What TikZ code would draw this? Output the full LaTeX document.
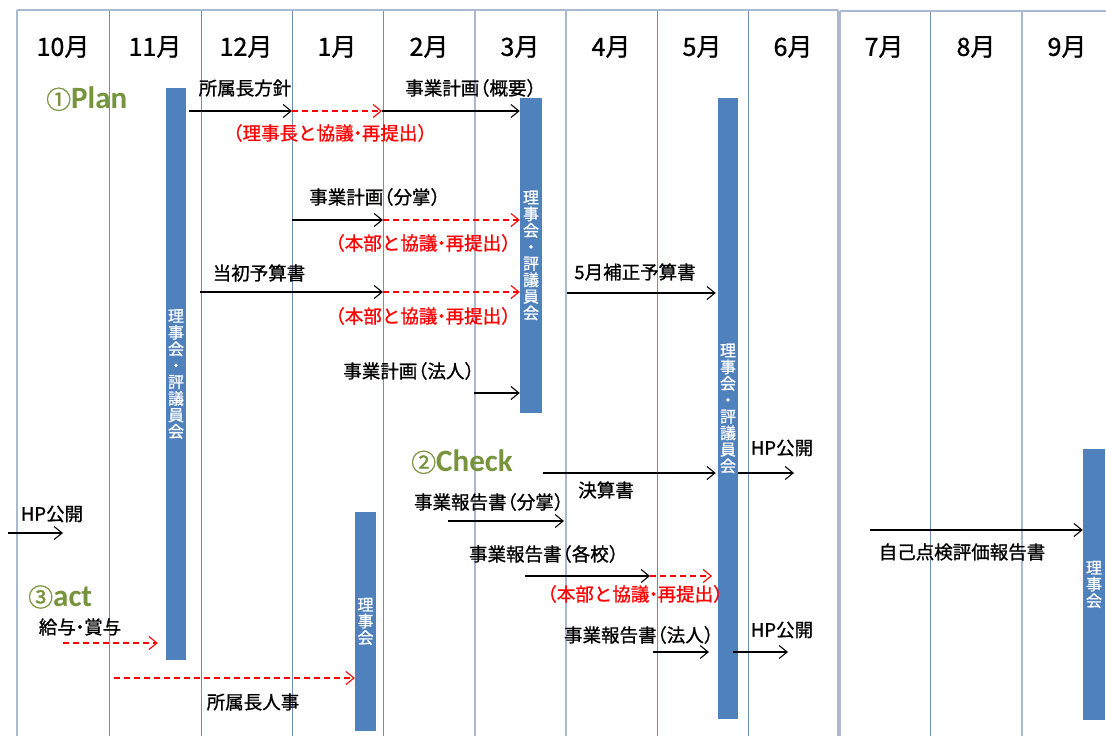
\documentclass[tikz,border=0pt]{standalone}
\usepackage{fontspec}
\setmainfont{Noto Sans CJK JP}[RawFeature={embolden=1.0}]
\newfontfamily\carl{Carlito}
\usetikzlibrary{arrows.meta}
\definecolor{barblue}{RGB}{79,129,189}
\definecolor{gridline}{RGB}{115,140,180}
\definecolor{gridlight}{RGB}{170,185,208}
\definecolor{pdcagreen}{RGB}{119,147,60}
\newcommand{\lp}{\makebox[0.55em][r]{（}}
\newcommand{\rp}{\makebox[0.55em][l]{）}}
\newcommand{\nd}{\makebox[0.45em][c]{・}}
\begin{document}
\begin{tikzpicture}[x=1pt,y=-1pt,
  month/.style={font=\fontsize{25}{25}\selectfont, inner sep=0pt},
  lbl/.style={font=\fontsize{18.5}{18.5}\selectfont, inner sep=0pt},
  redlbl/.style={lbl, text=red},
  phase/.style={text=pdcagreen, inner sep=0pt, anchor=west},
  bar/.style={fill=barblue, inner sep=0pt, text=white, align=center, font=\fontsize{16}{16.5}\selectfont},
  arr/.style={line width=1.1pt, -{Straight Barb[length=8pt,width=13pt,line width=1.1pt]}},
  darr/.style={arr, red, dash pattern=on 6pt off 4pt},
  gsolid/.style={gridline, line width=0.7pt},
  glight/.style={gridlight, line width=1.4pt},
]
\useasboundingbox (0,0) rectangle (1106,736);
\fill[white] (0,0) rectangle (1106,736);
% grid
\foreach \x in {109,201,292,383,657,748} \draw[gsolid] (\x,10) -- (\x,736);
\draw[gsolid] (930,11) -- (930,736);
\foreach \x in {17,475,566,838} \draw[glight] (\x,10) -- (\x,736);
\foreach \x in {840,1022} \draw[glight] (\x,11) -- (\x,736);
\draw[glight] (17,10) -- (838,10);
\draw[glight] (840,11) -- (1106,11);
% months
\node[month] (m10) at (63,47) {10月};
\node[month] (m11) at (155,47) {11月};
\node[month] (m12) at (246,47) {12月};
\node[month] (m1) at (337,47) {1月};
\node[month] (m2) at (429,47) {2月};
\node[month] (m3) at (520,47) {3月};
\node[month] (m4) at (611,47) {4月};
\node[month] (m5) at (702,47) {5月};
\node[month] (m6) at (793,47) {6月};
\node[month] (m7) at (884,47) {7月};
\node[month] (m8) at (976,47) {8月};
\node[month] (m9) at (1067,47) {9月};
% bars
\node[bar, minimum width=20pt, minimum height=572pt] (b1) at (176,374) {理\\事\\会\\・\\評\\議\\員\\会};
\node[bar, minimum width=22pt, minimum height=315pt] (b2) at (531,255.5) {理\\事\\会\\・\\評\\議\\員\\会};
\node[bar, minimum width=20pt, minimum height=621pt] (b3) at (728,408.5) {理\\事\\会\\・\\評\\議\\員\\会};
\node[bar, minimum width=21pt, minimum height=219pt] (b4) at (365.5,621.5) {理\\事\\会};
\node[bar, minimum width=22pt, minimum height=271pt] (b5) at (1094,584.5) {理\\事\\会};
% phase labels
\node[phase] (plan) at (46,99) {{\fontsize{25}{25}\selectfont ①}{\carl\bfseries\fontsize{31}{31}\selectfont Plan}};
\node[phase] (check) at (411,462) {{\fontsize{25}{25}\selectfont ②}{\carl\bfseries\fontsize{31}{31}\selectfont Check}};
\node[phase] (act) at (28,597) {{\fontsize{25}{25}\selectfont ③}{\carl\bfseries\fontsize{31}{31}\selectfont act}};
% labels
\node[lbl] (t1) at (245,88) {所属長方針};
\node[lbl] (t2) at (471,88) {事業計画\lp 概要\rp};
\node[redlbl] (r1) at (330,133) {\lp 理事長と協議\nd 再提出\rp};
\node[lbl] (t3) at (375,197) {事業計画\lp 分掌\rp};
\node[redlbl] (r2) at (423,243) {\lp 本部と協議\nd 再提出\rp};
\node[lbl] (t4) at (259,273) {当初予算書};
\node[lbl] (t5) at (635,272) {5月補正予算書};
\node[redlbl] (r3) at (423,316) {\lp 本部と協議\nd 再提出\rp};
\node[lbl] (t6) at (409,371) {事業計画\lp 法人\rp};
\node[lbl] (t7) at (782,448) {HP公開};
\node[lbl] (t8) at (606,490) {決算書};
\node[lbl] (t9) at (52,514) {HP公開};
\node[lbl] (t10) at (489,502) {事業報告書\lp 分掌\rp};
\node[lbl] (t11) at (544,554) {事業報告書\lp 各校\rp};
\node[redlbl] (r4) at (635,594) {\lp 本部と協議\nd 再提出\rp};
\node[lbl] (t12) at (80,627) {給与\nd 賞与};
\node[lbl] (t13) at (639,635) {事業報告書\lp 法人\rp};
\node[lbl] (t14) at (782,630) {HP公開};
\node[lbl] (t15) at (253,702) {所属長人事};
\node[lbl] (t16) at (962,552) {自己点検評価報告書};
% arrow coordinates
\coordinate (a1) at (189,111);
\coordinate (a2) at (292,111);
\coordinate (a3) at (382,111);
\coordinate (c1) at (292,220);
\coordinate (c2) at (383,220);
\coordinate (d1) at (200,292);
\coordinate (d2) at (383,292);
\coordinate (e1) at (567,293);
\coordinate (f1) at (474,393);
\coordinate (g1) at (543,473);
\coordinate (g2) at (794,473);
\coordinate (h1) at (8,533);
\coordinate (h2) at (63,533);
\coordinate (i1) at (448,521);
\coordinate (i2) at (564,521);
\coordinate (j1) at (525,576);
\coordinate (j2) at (650,576);
\coordinate (j3) at (712,576);
\coordinate (k1) at (653,652);
\coordinate (k2) at (709,652);
\coordinate (k3) at (733,652);
\coordinate (k4) at (788,652);
\coordinate (l1) at (870,530);
\coordinate (n1) at (63,643);
\coordinate (o1) at (114,678);
% arrows
\draw[arr] (a1) -- (a2);
\draw[darr] (a2) -- (a3);
\draw[arr] (a3) -- (a3 -| b2.west);
\draw[arr] (c1) -- (c2);
\draw[darr] (c2) -- (c2 -| b2.west);
\draw[arr] (d1) -- (d2);
\draw[darr] (d2) -- (d2 -| b2.west);
\draw[arr] (e1) -- ([xshift=-2pt]e1 -| b3.west);
\draw[arr] (f1) -- (f1 -| b2.west);
\draw[arr] (g1) -- ([xshift=-2pt]g1 -| b3.west);
\draw[arr] (g1 -| b3.east) -- (g2);
\draw[arr] (h1) -- (h2);
\draw[arr] (i1) -- (i2);
\draw[arr] (j1) -- (j2);
\draw[darr] (j2) -- (j3);
\draw[arr] (k1) -- (k2);
\draw[arr] (k3) -- (k4);
\draw[arr] (l1) -- (l1 -| b5.west);
\draw[darr] (n1) -- ([xshift=-8pt]n1 -| b1.west);
\draw[darr] (o1) -- (o1 -| b4.west);
\end{tikzpicture}
\end{document}
